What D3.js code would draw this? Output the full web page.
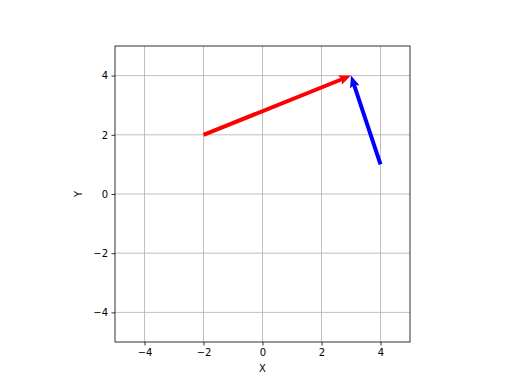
<!DOCTYPE html>
<html>
<head>
<meta charset="utf-8">
<script src="https://cdn.jsdelivr.net/npm/d3@7"></script>
<style>
  body { margin: 0; background: #fff; }
  text { font-family: "DejaVu Sans", sans-serif; font-size: 10px; fill: #000; }
  .grid line { stroke: #b0b0b0; stroke-width: 0.8; }
</style>
</head>
<body>
<svg id="chart" width="512" height="384"></svg>
<script>
// vectors: start point and components
var originX = [-2, 4];
var originY = [2, 1];
var vecU = [5, -1];
var vecV = [2, 3];
var colors = ["red", "blue"];
var ticks = [-4, -2, 0, 2, 4];

var svg = d3.select("#chart");
var margin = {left: 115, top: 46, right: 102, bottom: 42};
var width = 512 - margin.left - margin.right;
var height = 384 - margin.top - margin.bottom;

var x = d3.scaleLinear().domain([-5, 5]).range([0, width]);
var y = d3.scaleLinear().domain([-5, 5]).range([height, 0]);

var g = svg.append("g").attr("transform", "translate(" + margin.left + "," + margin.top + ")");

// grid
var grid = g.append("g").attr("class", "grid");
grid.selectAll(".gx").data(ticks).enter().append("line")
  .attr("x1", function(d) { return x(d); }).attr("x2", function(d) { return x(d); })
  .attr("y1", 0).attr("y2", height);
grid.selectAll(".gy").data(ticks).enter().append("line")
  .attr("y1", function(d) { return y(d); }).attr("y2", function(d) { return y(d); })
  .attr("x1", 0).attr("x2", width);

// arrows (quiver style polygons)
var shaftW = 4, headL = 12, headW = 10, headAxis = 10.5;
var arrows = originX.map(function(d, i) {
  return {x0: x(d), y0: y(originY[i]), x1: x(d + vecU[i]), y1: y(originY[i] + vecV[i]), c: colors[i]};
});
g.selectAll(".arrow").data(arrows).enter().append("polygon")
  .attr("fill", function(d) { return d.c; })
  .attr("points", function(d) {
    var dx = d.x1 - d.x0, dy = d.y1 - d.y0;
    var L = Math.sqrt(dx * dx + dy * dy);
    var ux = dx / L, uy = dy / L, nx = -uy, ny = ux;
    function p(a, b) { return [d.x0 + ux * a + nx * b, d.y0 + uy * a + ny * b].join(","); }
    return [p(0, -shaftW / 2), p(L - headAxis, -shaftW / 2), p(L - headL, -headW / 2), p(L, 0),
            p(L - headL, headW / 2), p(L - headAxis, shaftW / 2), p(0, shaftW / 2)].join(" ");
  });

// axes
var xAxis = g.append("g").attr("transform", "translate(0," + height + ")")
  .call(d3.axisBottom(x).tickValues(ticks).tickSize(3.5).tickPadding(3.5)
    .tickFormat(function(d) { return d < 0 ? "\u2212" + Math.abs(d) : d; }));
var yAxis = g.append("g")
  .call(d3.axisLeft(y).tickValues(ticks).tickSize(3.5).tickPadding(3.5)
    .tickFormat(function(d) { return d < 0 ? "\u2212" + Math.abs(d) : d; }));
[xAxis, yAxis].forEach(function(a) {
  a.select(".domain").remove();
  a.selectAll("line").attr("stroke", "#000").attr("stroke-width", 0.8);
  a.selectAll("text").style("font-family", "DejaVu Sans, sans-serif").style("font-size", "10px");
});

g.append("rect").attr("width", width).attr("height", height)
  .attr("fill", "none").attr("stroke", "#000").attr("stroke-width", 0.8);

svg.append("text").attr("x", margin.left + width / 2).attr("y", 372)
  .attr("text-anchor", "middle").text("X");
svg.append("text").attr("transform", "translate(82," + (margin.top + height / 2) + ") rotate(-90)")
  .attr("text-anchor", "middle").text("Y");
</script>
</body>
</html>
